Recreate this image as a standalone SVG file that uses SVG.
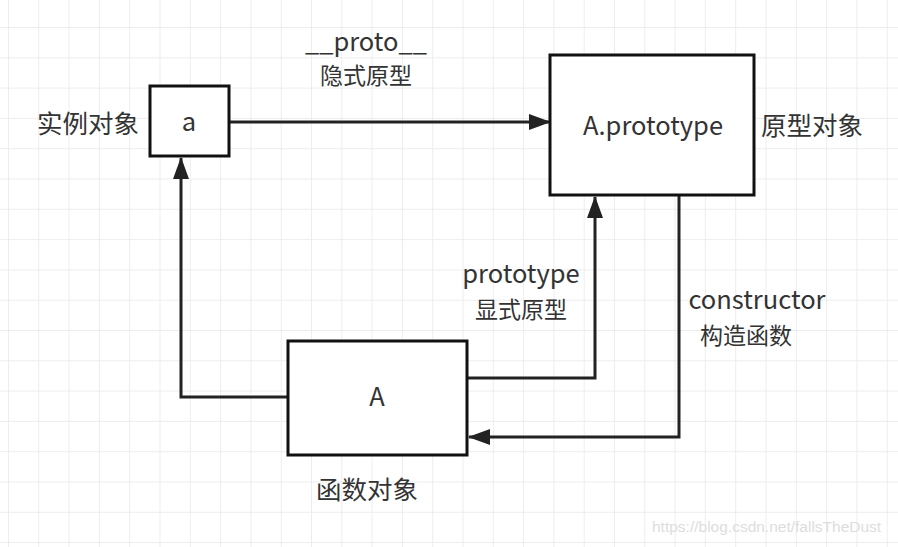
<svg xmlns="http://www.w3.org/2000/svg" width="898" height="547" viewBox="0 0 898 547">
<defs>
<pattern id="g" width="30.3" height="30.3" patternUnits="userSpaceOnUse" x="8" y="27">
<path d="M0 0H30.3M0 0V30.3" fill="none" stroke="#e8e8e8" stroke-width="1.5"/>
</pattern>
<marker id="ah" markerWidth="22" markerHeight="16" refX="21" refY="8" orient="auto" markerUnits="userSpaceOnUse" viewBox="0 0 22 16">
<path d="M0 0L22 8L0 16Z" fill="#222"/>
</marker>
<style>
.box{fill:#fff;stroke:#111;stroke-width:3}
.t{font-family:"Microsoft YaHei","Noto Sans CJK SC",sans-serif;font-size:25.5px;fill:#333}
.s{font-family:"Microsoft YaHei","Noto Sans CJK SC",sans-serif;font-size:23px;fill:#333}
.c{fill:none;stroke:#222;stroke-width:3;marker-end:url(#ah)}
</style>
</defs>
<rect width="898" height="547" fill="#fff"/>
<rect width="898" height="547" fill="url(#g)"/>
<g id="connectors">
<path class="c" d="M229 122H550"/>
<path class="c" d="M288 397H181V158"/>
<path class="c" d="M467 378H595V197"/>
<path class="c" d="M679 195V437H469"/>
</g>
<g id="a"><rect class="box" x="150" y="86" width="79" height="70"/><text class="t" x="189" y="131" text-anchor="middle">a</text></g>
<g id="Aproto"><rect class="box" x="550" y="55" width="204" height="140"/><text class="t" x="653" y="135" text-anchor="middle">A.prototype</text></g>
<g id="A"><rect class="box" x="288" y="341" width="179" height="114"/><text class="t" x="377" y="406" text-anchor="middle">A</text></g>
<g id="labels">
<text class="t" x="88" y="133" text-anchor="middle">实例对象</text>
<text class="t" x="812" y="135" text-anchor="middle">原型对象</text>
<text class="t" x="366" y="51" text-anchor="middle">__proto__</text>
<text class="s" x="366" y="84" text-anchor="middle">隐式原型</text>
<text class="t" x="521" y="283" text-anchor="middle">prototype</text>
<text class="s" x="521" y="318" text-anchor="middle">显式原型</text>
<text class="t" x="757" y="309" text-anchor="middle">constructor</text>
<text class="s" x="746" y="344" text-anchor="middle">构造函数</text>
<text class="t" x="367" y="499" text-anchor="middle">函数对象</text>
<text x="652" y="532" font-family="Liberation Sans,sans-serif" font-size="15.5" fill="#ddd">https://blog.csdn.net/fallsTheDust</text>
</g>
</svg>
